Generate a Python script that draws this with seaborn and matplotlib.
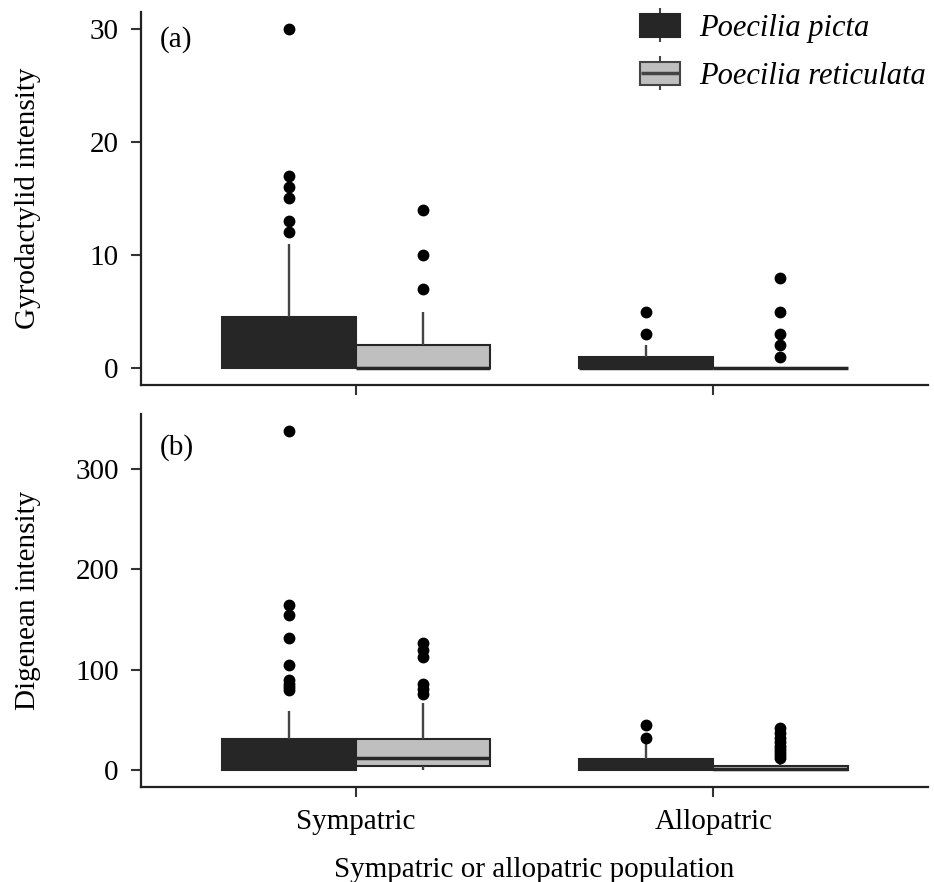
import matplotlib
matplotlib.use("Agg")
import matplotlib.pyplot as plt
import numpy as np
import pandas as pd
import seaborn as sns
from matplotlib.lines import Line2D
from matplotlib.patches import Patch
from matplotlib.legend_handler import HandlerTuple

# Categories
populations = ["Sympatric", "Allopatric"]
species = ["Poecilia picta", "Poecilia reticulata"]

# (a) Gyrodactylid counts per fish
gyro_sym_picta = [0, 0, 0, 0, 0, 0, 0, 0, 0, 0, 0, 0,
                  0, 0, 0, 1, 1, 1, 1, 1, 1, 1,
                  1, 2, 2, 2, 3, 3, 3, 4, 4, 4,
                  5, 6, 7, 9, 11,
                  12, 13, 15, 16, 17, 30]
gyro_sym_retic = [0, 0, 0, 0, 0, 0, 0, 0, 0, 0, 0,
                  1, 1, 1, 2, 2,
                  3, 5,
                  7, 10, 14]
gyro_allo_picta = [0, 0, 0, 0, 0, 0, 0, 0, 0, 0, 0,
                   0, 1, 1, 1, 1,
                   1, 2, 2,
                   3, 5]
gyro_allo_retic = [0, 0, 0, 0, 0, 0, 0, 0, 0, 0,
                   0, 0, 0, 0, 0, 0, 0, 0, 0, 0,
                   1, 2, 3, 5, 8]

# (b) Digenean counts per fish
dig_sym_picta = [0, 0, 0, 0, 0, 0, 0, 0, 0, 0, 0, 0,
                 0, 1, 1, 2, 3, 4, 5, 6, 7, 8, 8,
                 10, 12, 14, 16, 18, 20, 22, 24, 26, 29, 31,
                 40, 59,
                 80, 83, 86, 90, 105, 132, 155, 165, 338]
dig_sym_retic = [0, 1, 1, 2, 2, 3, 3, 3, 4, 4, 4,
                 5, 6, 7, 7, 8, 9, 10, 11, 11, 12,
                 13, 14, 16, 18, 20, 22, 24, 26, 28, 31,
                 38, 45, 52, 67,
                 76, 81, 86, 113, 120, 127]
dig_allo_picta = [0, 0, 0, 0, 0, 0, 0,
                  0, 1, 1, 2, 2, 3,
                  4, 5, 6, 8, 9, 11,
                  14, 18, 22, 27,
                  32, 45]
dig_allo_retic = [0, 0, 0, 0, 0, 0, 0, 0, 0, 0, 0, 0, 0, 0, 0, 0,
                  0, 0, 0, 0, 0, 0, 1, 1, 1, 1, 1, 1, 1, 1, 1,
                  1, 2, 2, 2, 2, 3, 3, 3, 3, 3, 4, 4, 4, 4, 4,
                  5, 6, 7, 8, 9, 10,
                  12, 15, 18, 21, 24, 28, 32, 37, 42]

gyro_ticks = [0, 10, 20, 30]
dig_ticks = [0, 100, 200, 300]


def long_table(groups):
    rows = []
    for (pop, sp), values in groups.items():
        for v in values:
            rows.append({"population": pop, "species": sp, "intensity": v})
    return pd.DataFrame(rows)


gyro = long_table({
    ("Sympatric", "Poecilia picta"): gyro_sym_picta,
    ("Sympatric", "Poecilia reticulata"): gyro_sym_retic,
    ("Allopatric", "Poecilia picta"): gyro_allo_picta,
    ("Allopatric", "Poecilia reticulata"): gyro_allo_retic,
})
dig = long_table({
    ("Sympatric", "Poecilia picta"): dig_sym_picta,
    ("Sympatric", "Poecilia reticulata"): dig_sym_retic,
    ("Allopatric", "Poecilia picta"): dig_allo_picta,
    ("Allopatric", "Poecilia reticulata"): dig_allo_retic,
})

sns.set_style("ticks")
plt.rcParams["font.family"] = ["Liberation Serif", "DejaVu Serif"]
plt.rcParams["text.color"] = "black"
plt.rcParams["axes.labelcolor"] = "black"

DARK = "#262626"
LIGHT = "#bfbfbf"
EDGE = "#262626"
palette = {species[0]: DARK, species[1]: LIGHT}
FS = 21

fig = plt.figure(figsize=(9.34, 8.82), dpi=100)
ax_a = fig.add_axes([0.151, 0.5635, 0.8426, 0.4229])
ax_b = fig.add_axes([0.151, 0.1077, 0.8426, 0.4229])


def draw_panel(ax, df, ticks, ylabel, tag):
    sns.boxplot(data=df, x="population", y="intensity", hue="species",
                order=populations, hue_order=species, palette=palette,
                width=0.75, gap=0, linecolor=EDGE, linewidth=1.5,
                showcaps=False, fliersize=7.5,
                flierprops=dict(marker="o", markerfacecolor="black",
                                markeredgecolor="black", markersize=7.5),
                whiskerprops=dict(color="#444444", linewidth=1.7),
                medianprops=dict(color=EDGE, linewidth=2.5),
                legend=False, ax=ax)
    vmax = max(df["intensity"])
    pad = 0.05 * vmax
    ax.set_ylim(-pad, vmax + pad)
    ax.set_xlim(-0.6, 1.6)
    ax.set_yticks(ticks)
    ax.set_yticklabels([str(t) for t in ticks])
    sns.despine(ax=ax)
    for side in ("left", "bottom"):
        ax.spines[side].set_linewidth(1.6)
        ax.spines[side].set_color("#222222")
    ax.tick_params(axis="both", length=7, width=1.5, color="#333333",
                   labelsize=FS, labelcolor="black")
    ax.tick_params(axis="y", pad=9)
    ax.tick_params(axis="x", pad=9)
    ax.set_ylabel(ylabel, fontsize=FS, color="black")
    ax.yaxis.set_label_coords(-0.127, 0.5)
    ax.text(0.024, 0.925 if tag == "(a)" else 0.909, tag, color="black",
            transform=ax.transAxes, fontsize=FS, va="center", ha="left")


draw_panel(ax_a, gyro, gyro_ticks, "Gyrodactylid intensity", "(a)")
draw_panel(ax_b, dig, dig_ticks, "Digenean intensity", "(b)")

ax_a.set_xlabel("")
ax_a.set_xticklabels([])
ax_b.set_xlabel("Sympatric or allopatric population", fontsize=FS,
                labelpad=16, color="black")

# Legend keys drawn like small boxplots
wh1 = Line2D([], [], marker="|", markersize=24, markeredgewidth=1.5,
             color="#444444", linestyle="none")
wh2 = Line2D([], [], marker="|", markersize=24, markeredgewidth=1.5,
             color="#444444", linestyle="none")
box1 = Patch(facecolor=DARK, edgecolor=EDGE, linewidth=1.5)
box2 = Patch(facecolor=LIGHT, edgecolor="#444444", linewidth=1.5)
med2 = Line2D([], [], marker="_", markersize=27, markeredgewidth=2.5,
              color="#444444", linestyle="none")
fig.legend(handles=[(wh1, box1), (wh2, box2, med2)], labels=species,
           handler_map={tuple: HandlerTuple(ndivide=1)},
           loc="upper left", bbox_to_anchor=(640 / 934, 1 - 14 / 882),
           frameon=False, numpoints=1, borderpad=0, borderaxespad=0,
           handlelength=1.3, handleheight=0.8, handletextpad=0.65,
           labelspacing=0.6, labelcolor="black",
           prop={"family": "Liberation Serif", "style": "italic", "size": 22})

fig.savefig("out.png", dpi=100)
